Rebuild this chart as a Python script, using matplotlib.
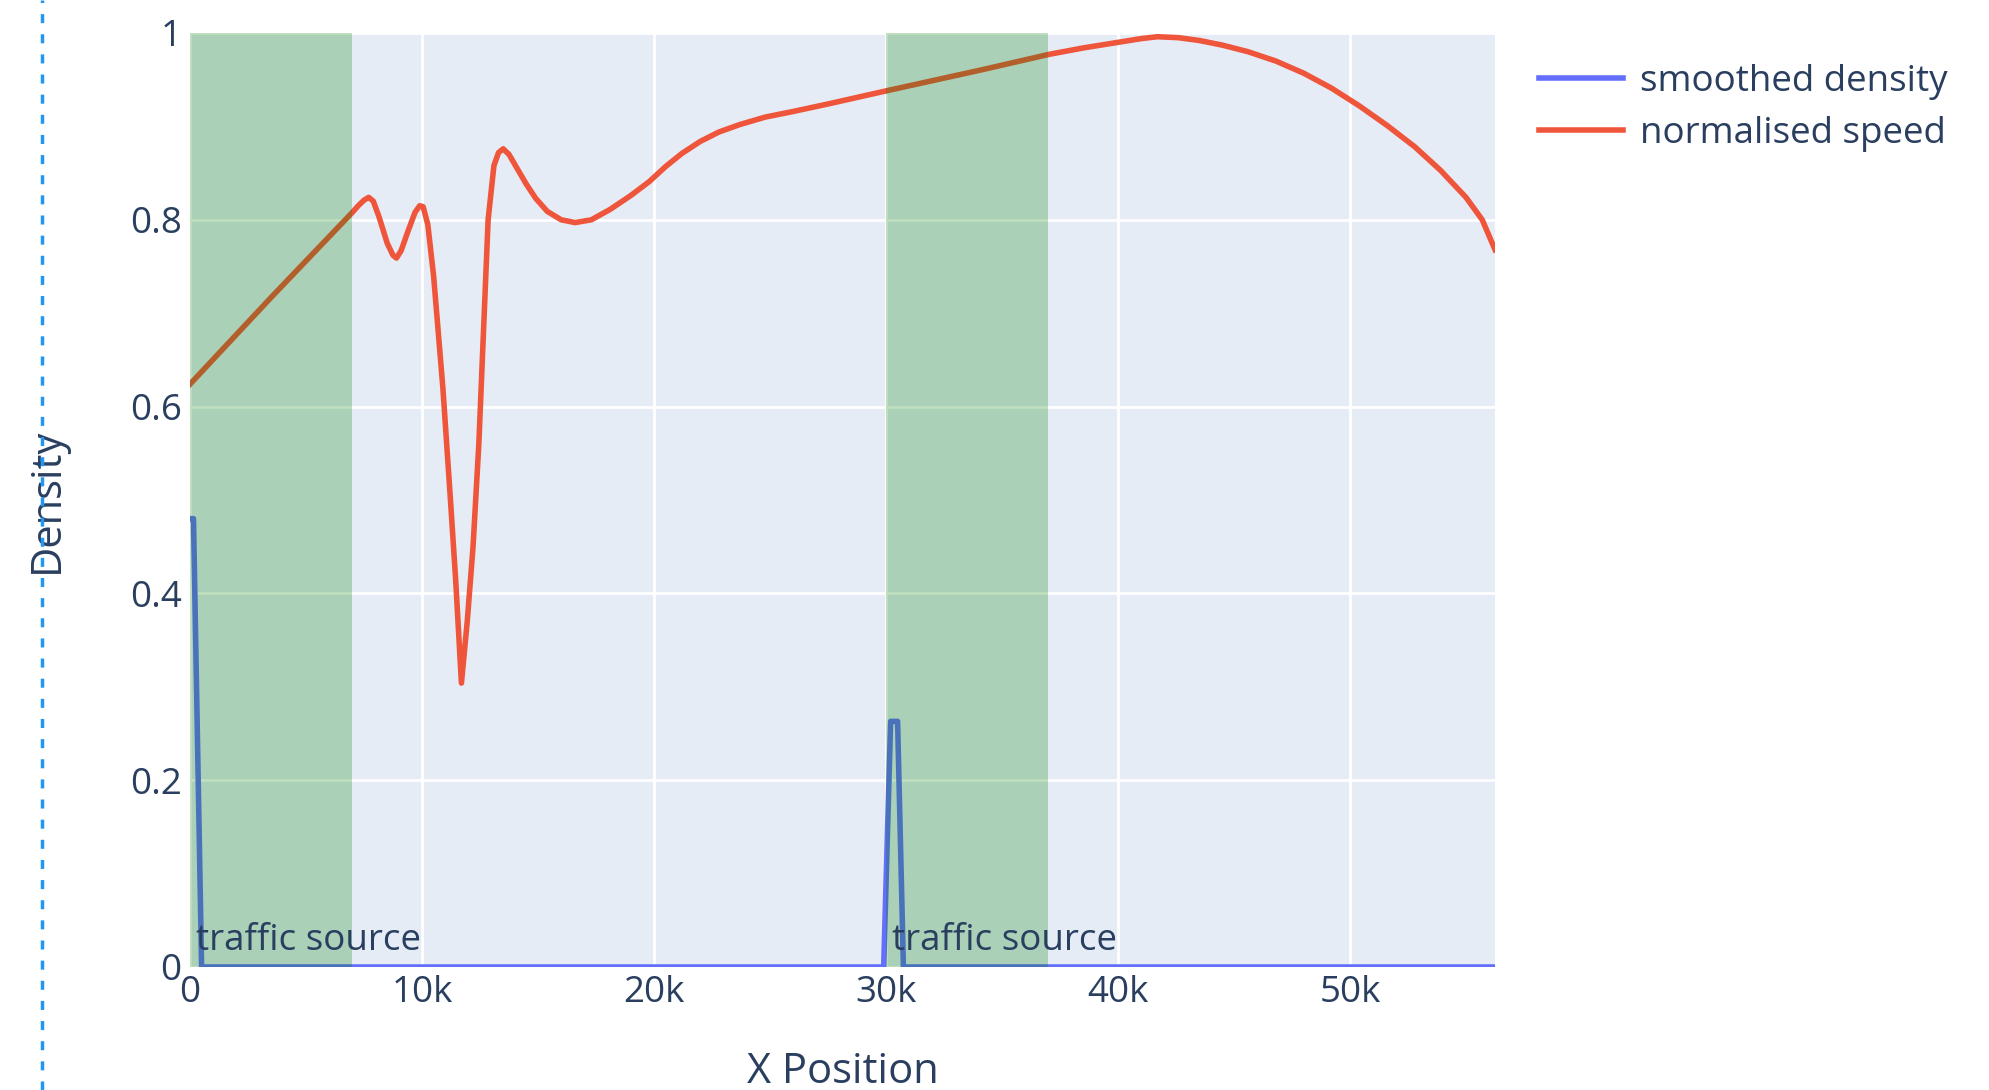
import numpy as np
import matplotlib.pyplot as plt
from matplotlib.lines import Line2D
from matplotlib.ticker import FuncFormatter

plt.rcParams['font.family'] = ['Open Sans', 'DejaVu Sans']

# smoothed density along the road
density_x = [0, 150, 500, 29900, 30200, 30500, 30750, 56250]
density_y = [0.48, 0.48, 0.0, 0.0, 0.263, 0.263, 0.0, 0.0]

# normalised speed along the road
speed_x = [0, 3500, 7000, 7250, 7500, 7700, 7900, 8150, 8500, 8750, 8900,
           9100, 9400, 9700, 9900, 10050, 10250, 10500, 10900, 11200, 11450,
           11700, 11950, 12200, 12450, 12650, 12850, 13100, 13300, 13500,
           13750, 14100, 14500, 14900, 15400, 16000, 16600, 17300, 18100,
           19000, 19800, 20500, 21200, 22000, 22800, 23700, 24800, 26000,
           27500, 30000, 34200, 37000, 38500, 40000, 41000, 41700, 42600,
           43500, 44500, 45600, 46800, 48000, 49200, 50400, 51600, 52800,
           53900, 55000, 55700, 56250]
speed_y = [0.624, 0.717, 0.808, 0.815, 0.821, 0.824, 0.820, 0.803, 0.775,
           0.762, 0.759, 0.767, 0.788, 0.808, 0.815, 0.814, 0.795, 0.740,
           0.620, 0.510, 0.415, 0.304, 0.370, 0.450, 0.560, 0.680, 0.800,
           0.858, 0.872, 0.876, 0.870, 0.855, 0.838, 0.823, 0.809, 0.800,
           0.797, 0.800, 0.811, 0.826, 0.841, 0.857, 0.871, 0.884, 0.894,
           0.902, 0.910, 0.916, 0.924, 0.938, 0.961, 0.977, 0.984, 0.990,
           0.994, 0.996, 0.995, 0.992, 0.987, 0.980, 0.970, 0.957, 0.941,
           0.922, 0.901, 0.878, 0.853, 0.824, 0.800, 0.768]

source_start = [0, 30000]
source_end = [7000, 37000]
source_label = "traffic source"

x_ticks = [0, 10000, 20000, 30000, 40000, 50000]
y_ticks = [0, 0.2, 0.4, 0.6, 0.8, 1.0]

font_col = '#2a3f5f'
tick_size = 26.5
title_size = 30

fig = plt.figure(figsize=(19.9, 10.9), dpi=100)
ax = fig.add_axes([190/1990, 1 - 967/1090, 1305/1990, 934/1090])
ax.set_facecolor('#E5ECF6')

ax.plot(density_x, density_y, color='#636EFA', lw=4.0, label='smoothed density',
        zorder=3, solid_joinstyle='round')
ax.plot(speed_x, speed_y, color='#EF553B', lw=4.0, label='normalised speed',
        zorder=3, solid_joinstyle='round')

# source regions are drawn above the traces, like the plotly shapes
for x0, x1 in zip(source_start, source_end):
    ax.axvspan(x0, x1, color='green', alpha=0.25, lw=0, zorder=4)
    ax.annotate(source_label, (x0, 0), xytext=(4, 6), textcoords='offset points',
                ha='left', va='bottom', color=font_col, fontsize=tick_size, zorder=5)

ax.set_xlim(0, 56250)
ax.set_ylim(0, 1)
ax.set_xticks(x_ticks)
ax.set_yticks(y_ticks)
ax.xaxis.set_major_formatter(FuncFormatter(lambda v, p: '0' if v == 0 else f'{int(v/1000)}k'))
ax.yaxis.set_major_formatter(FuncFormatter(lambda v, p: f'{v:g}'))
ax.grid(color='white', lw=2.0, zorder=1)
ax.set_axisbelow(True)
for s in ax.spines.values():
    s.set_visible(False)
ax.tick_params(length=0, labelsize=tick_size, labelcolor=font_col, pad=6)

ax.set_xlabel('X Position', fontsize=title_size, color=font_col)
ax.set_ylabel('Density', fontsize=title_size, color=font_col)
ax.xaxis.set_label_coords(0.5, -0.112)
ax.xaxis.label.set_va('center')
ax.yaxis.set_label_coords(-0.1096, 0.5)
ax.yaxis.label.set_va('center')

leg = fig.legend(loc='upper left', bbox_to_anchor=(1524/1990, 1 - 49/1090),
                 frameon=False, fontsize=tick_size, handlelength=2.3,
                 handletextpad=0.45, labelspacing=0.45, borderaxespad=0)
for t in leg.get_texts():
    t.set_color(font_col)

# dotted cell marker on the left edge of the screenshot
fig.add_artist(Line2D([42/1990, 42/1990], [0, 1], transform=fig.transFigure,
                      color='#2196F3', lw=2.5, ls=(0, (2.6, 3.2))))

fig.savefig('out.png', dpi=100)
